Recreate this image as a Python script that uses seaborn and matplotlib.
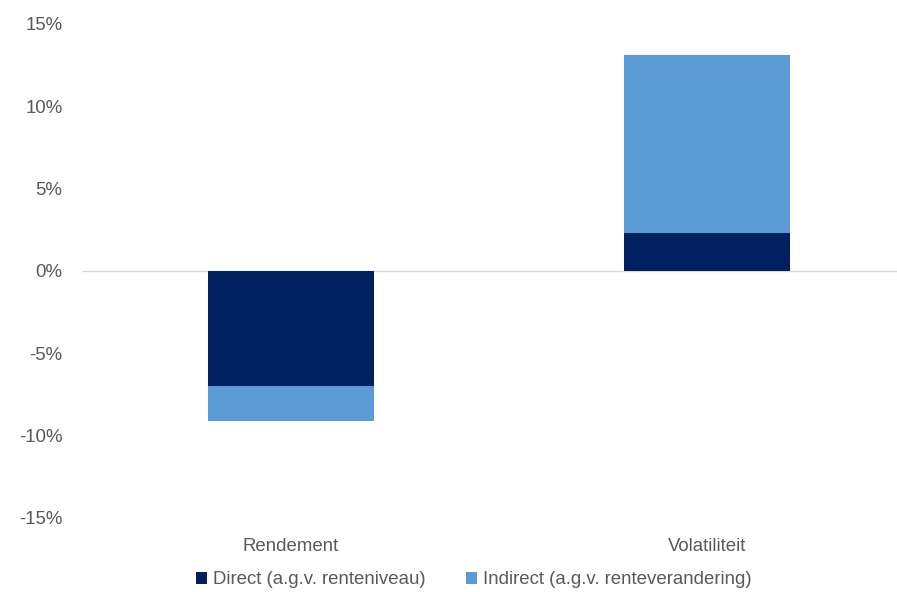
import matplotlib
matplotlib.use("Agg")
import matplotlib.pyplot as plt
import seaborn as sns
import pandas as pd
from matplotlib.patches import Patch
from matplotlib.ticker import FuncFormatter

# Effect of interest rates, split into direct and indirect components (in %)
categories = ["Rendement", "Volatiliteit"]
direct = [-7.0, 2.3]
indirect = [-2.1, 10.8]
series_names = ["Direct (a.g.v. renteniveau)", "Indirect (a.g.v. renteverandering)"]
yticks = [-15, -10, -5, 0, 5, 10, 15]

dark_blue = "#002060"
light_blue = "#5B9BD5"
text_grey = "#595959"
fs = 13.4

sns.set_theme(style="white")
plt.rcParams["font.family"] = ["Liberation Sans", "DejaVu Sans"]

df = pd.DataFrame({
    "categorie": categories,
    "direct": direct,
    "totaal": [d + i for d, i in zip(direct, indirect)],
})

fig = plt.figure(figsize=(8.97, 5.92), dpi=100)
ax = fig.add_axes([0.0914, 0.125, 0.9086, 0.8345])

# Stacked look: total (direct + indirect) underneath, direct component on top
sns.barplot(data=df, x="categorie", y="totaal", color=light_blue, width=0.4,
            saturation=1, ax=ax, linewidth=0)
sns.barplot(data=df, x="categorie", y="direct", color=dark_blue, width=0.4,
            saturation=1, ax=ax, linewidth=0)

ax.set_xlim(-0.502, 1.457)
ax.set_ylim(-15, 15)
ax.set_yticks(yticks)
ax.yaxis.set_major_formatter(FuncFormatter(lambda v, _: f"{v:.0f}%"))
ax.axhline(0, color="#D9D9D9", linewidth=1, zorder=0)

for s in ax.spines.values():
    s.set_visible(False)
ax.grid(False)
ax.set_xlabel("")
ax.set_ylabel("")
ax.tick_params(axis="y", colors=text_grey, labelsize=fs, length=0, pad=14)
ax.tick_params(axis="x", colors=text_grey, labelsize=fs, length=0, pad=14.5)
for lbl in ax.get_xticklabels() + ax.get_yticklabels():
    lbl.set_color(text_grey)

handles = [Patch(facecolor=dark_blue, edgecolor="none"),
           Patch(facecolor=light_blue, edgecolor="none")]
fig.legend(handles, series_names, loc="center", ncol=2,
           bbox_to_anchor=(0.528, 0.0203), frameon=False, fontsize=fs,
           labelcolor=text_grey, handlelength=0.6, handleheight=0.6,
           handletextpad=0.3, columnspacing=2.2)

fig.savefig("out.png", dpi=100, facecolor="white")
